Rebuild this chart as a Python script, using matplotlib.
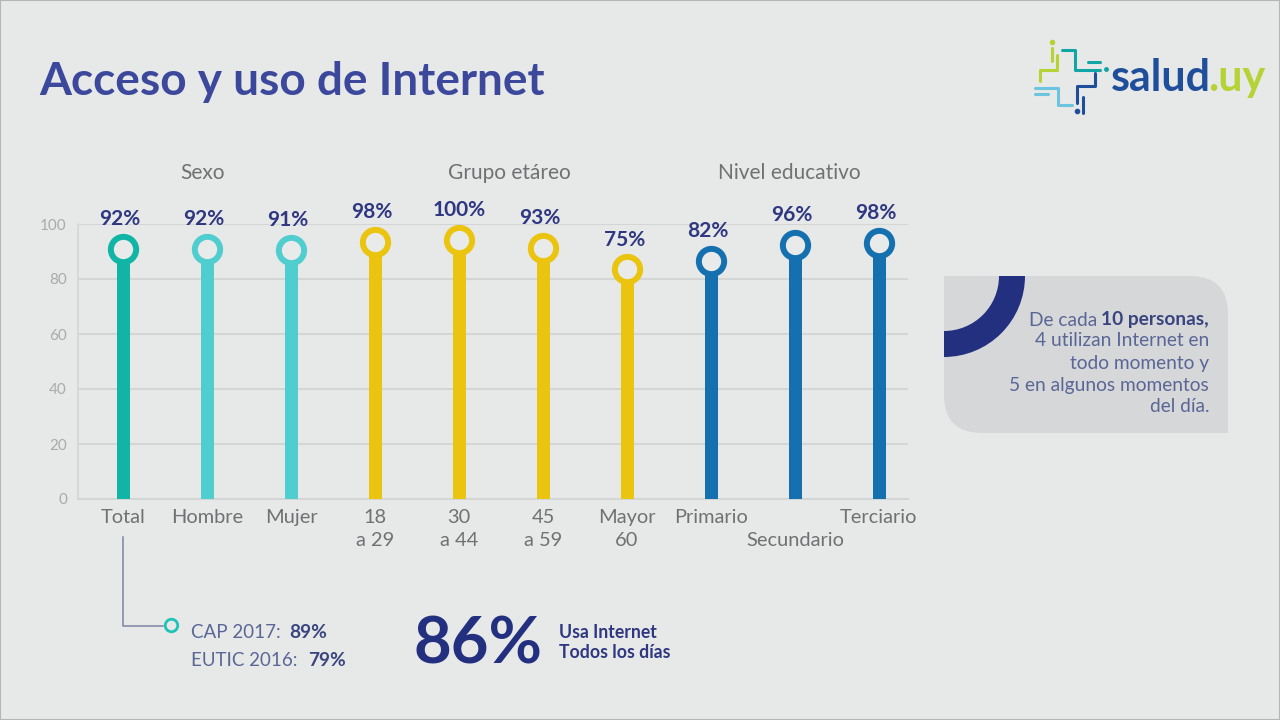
import numpy as np
import matplotlib
matplotlib.use('Agg')
import matplotlib.pyplot as plt
import matplotlib.patches as patches
from matplotlib.path import Path

plt.rcParams['font.family'] = ['Lato', 'DejaVu Sans']

# data
categories = ['Total', 'Hombre', 'Mujer', '18\na 29', '30\na 44', '45\na 59',
              'Mayor\n60', 'Primario', '\nSecundario', 'Terciario']
heights = [91, 91, 90.5, 93.5, 94.3, 91.2, 83.5, 86.5, 92.5, 93]  # as drawn, the slide is not to scale
labels = ['92%', '92%', '91%', '98%', '100%', '93%', '75%', '82%', '96%', '98%']
bar_colors = ['#10B5A6', '#4FCDCF', '#4FCDCF', '#EBC40F', '#EBC40F', '#EBC40F',
              '#EBC40F', '#1570B0', '#1570B0', '#1570B0']
y_ticks = [0, 20, 40, 60, 80, 100]
groups = ['Sexo', 'Grupo etáreo', 'Nivel educativo']
group_x = [203, 509, 789]

bg = '#E7E8E8'
navy = '#232F7F'
gray_text = '#707173'
W, H = 1280, 720

fig = plt.figure(figsize=(12.8, 7.2), dpi=100, facecolor=bg)

# overlay in pixel coordinates for the slide furniture
pix = fig.add_axes([0, 0, 1, 1])
pix.set_xlim(0, W)
pix.set_ylim(H, 0)
pix.axis('off')

# chart axes
x0, x1, y_top, y_bot = 78, 908, 224, 499
ax = fig.add_axes([x0 / W, 1 - y_bot / H, (x1 - x0) / W, (y_bot - y_top) / H])
ax.patch.set_alpha(0)
step = 84
ax.set_xlim((x0 - 123) / step, (x1 - 123) / step)
ax.set_ylim(0, 100)

x = np.arange(len(categories))
ax.set_axisbelow(True)
ax.grid(axis='y', color='#D4D5D5', lw=1.5)
ax.bar(x, heights, width=13 / step, color=bar_colors, zorder=3)
for i in x:
    ax.plot(i, heights[i], 'o', ms=18.2, mew=4.3, mec=bar_colors[i], mfc='#E9EAEA',
            clip_on=False, zorder=4)
    # the labels sit a little left of the stems, except the wide 100%
    dx = 0 if labels[i] == '100%' else -2
    ax.annotate(labels[i], (i, heights[i]), xytext=(dx, 21.5), textcoords='offset points',
                ha='center', va='center', fontsize=15, fontweight='bold', color='#2E3780')

for s in ['top', 'right']:
    ax.spines[s].set_visible(False)
ax.spines['left'].set_color('#D4D5D5')
ax.spines['bottom'].set_color('#D4D5D5')
ax.spines['left'].set_linewidth(1.2)
ax.spines['bottom'].set_linewidth(1.5)
ax.set_yticks(y_ticks)
ax.tick_params(axis='y', length=0, pad=8, labelsize=11, labelcolor='#A9AAAB')
ax.set_xticks(x)
ax.set_xticklabels(categories, linespacing=1.45)
ax.tick_params(axis='x', length=0, pad=7, labelsize=14.4, labelcolor=gray_text)

# title and group headers
pix.text(39, 82, 'Acceso y uso de Internet', fontsize=33.1, fontweight='bold',
         color='#3B489C', va='center', ha='left')
for g, gx in zip(groups, group_x):
    pix.text(gx, 173, g, fontsize=15, color=gray_text, ha='center', va='center')

# logo
lime, teal, sky, blue = '#B5D334', '#12A5A5', '#6CC5E0', '#1F4E9B'
logo_lines = [
    (lime, [(1052, 48), (1052, 61)]),
    (lime, [(1057, 55), (1057, 70), (1040, 70), (1040, 81)]),
    (teal, [(1062, 50), (1075, 50), (1075, 70), (1100, 70)]),
    (teal, [(1088, 62), (1100, 62)]),
    (blue, [(1095, 73), (1095, 86), (1077, 86), (1077, 103)]),
    (blue, [(1083, 97), (1083, 113)]),
    (sky, [(1035, 88), (1048, 88), (1058, 88), (1058, 105), (1072, 105)]),
    (sky, [(1035, 94), (1048, 94)]),
]
for c, pts in logo_lines:
    xs, ys = zip(*pts)
    pix.plot(xs, ys, color=c, lw=2.2, solid_capstyle='round', solid_joinstyle='round')
pix.plot([1052], [42], 'o', ms=3, color=lime)
pix.plot([1106], [69], 'o', ms=2.5, color=teal)
pix.plot([1077], [111], 'o', ms=3, color=blue)
pix.text(1111, 78, 'salud', fontsize=31, fontweight='bold', color=blue, ha='left', va='center')
pix.text(1265, 78, '.uy', fontsize=31, fontweight='bold', color=lime, ha='right', va='center')

# callout panel, square at top left and bottom right
bx0, bx1, by0, by1, r = 944, 1228, 276, 433, 38
verts = [(bx0, by0), (bx1 - r, by0), (bx1, by0), (bx1, by0 + r), (bx1, by1),
         (bx0 + r, by1), (bx0, by1), (bx0, by1 - r), (bx0, by0)]
codes = [Path.MOVETO, Path.LINETO, Path.CURVE3, Path.CURVE3, Path.LINETO,
         Path.LINETO, Path.CURVE3, Path.CURVE3, Path.CLOSEPOLY]
pix.add_patch(patches.PathPatch(Path(verts, codes), fc='#D6D7D9', ec='none'))
pix.add_patch(patches.Wedge((bx0, by0), 81, 0, 90, width=26, fc=navy, ec='none'))

panel_color = '#5A6796'
panel_lines = ['4 utilizan Internet en', 'todo momento y', '5 en algunos momentos', 'del día.']
panel_y = [341, 363, 385, 406]
pix.text(1209, 320, '10 personas,', fontsize=13.8, fontweight='bold', color='#3A4580', ha='right', va='center')
pix.text(1097, 320, 'De cada', fontsize=13.8, color=panel_color, ha='right', va='center')
for t, ty in zip(panel_lines, panel_y):
    pix.text(1209, ty, t, fontsize=13.8, color=panel_color, ha='right', va='center')

# connector from Total to the comparison figures
pix.plot([123, 123, 163], [537, 626, 626], color='#7C84A6', lw=1.1)
pix.plot([171], [625], 'o', ms=9, mew=2, mec='#1FC4B8', mfc=bg)
pix.text(191, 632, 'CAP 2017:', fontsize=13.5, color=panel_color, ha='left', va='center')
pix.text(289, 632, '89%', fontsize=13.8, fontweight='bold', color='#3A4580', ha='left', va='center')
pix.text(191, 661, 'EUTIC 2016:', fontsize=13.5, color=panel_color, ha='left', va='center')
pix.text(308, 661, '79%', fontsize=13.8, fontweight='bold', color='#3A4580', ha='left', va='center')

pix.text(414, 645, '86%', fontsize=47, fontweight='bold', color=navy, ha='left', va='center')
pix.text(559, 632, 'Usa Internet', fontsize=12.7, fontweight='bold', color='#2E3780', ha='left', va='center')
pix.text(559, 653, 'Todos los días', fontsize=12.7, fontweight='bold', color='#2E3780', ha='left', va='center')

# dark rim of the screen capture
pix.add_patch(patches.Rectangle((0, 0), W, H, fill=False, ec='#B5B6B6', lw=1.5))

fig.savefig('out.png', dpi=100, facecolor=bg)
